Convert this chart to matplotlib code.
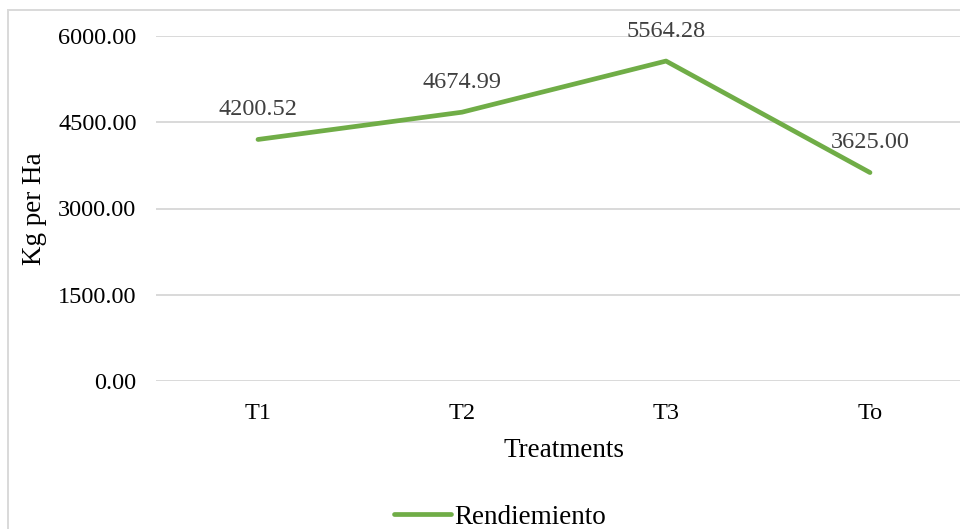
import matplotlib.pyplot as plt
from matplotlib.patches import Rectangle

# data
treatments = ['T1', 'T2', 'T3', 'To']
rendimiento = [4200.52, 4674.99, 5564.28, 3625.00]
yticks = [0, 1500, 3000, 4500, 6000]

plt.rcParams['font.family'] = ['Liberation Serif', 'DejaVu Serif']

fig = plt.figure(figsize=(9.6, 5.29), dpi=100)
# plot area runs past the right edge of the picture, as in the reference
ax = fig.add_axes([156 / 960, 148 / 529, 816 / 960, 345 / 529])

x = range(len(treatments))
ax.plot(x, rendimiento, color='#70AD47', lw=3.4, solid_capstyle='round',
        label='Rendiemiento', zorder=3)

for xi, v in zip(x, rendimiento):
    ax.annotate(f'{v:.2f}', (xi, v), xytext=(0, 21.5), textcoords='offset points',
                ha='center', va='center', fontsize=17.5, color='#404040', zorder=4)

ax.set_xlim(-0.5, len(treatments) - 0.5)
ax.set_ylim(0, 6000)
ax.set_xticks(list(x))
ax.set_xticklabels(treatments)
ax.set_yticks(yticks)
ax.set_yticklabels([f'{t:.2f}' for t in yticks])
ax.tick_params(length=0, labelsize=17.5, colors='#000000')
ax.tick_params(axis='y', pad=14)
ax.tick_params(axis='x', pad=16)
ax.grid(axis='y', color='#d9d9d9', lw=1.4)
ax.set_axisbelow(True)
for s in ax.spines.values():
    s.set_visible(False)

ax.set_xlabel('Treatments', fontsize=19.5, labelpad=10)
ax.set_ylabel('Kg per Ha', fontsize=19.5, labelpad=8)

fig.legend(loc='center', bbox_to_anchor=(500 / 960, 1 - 517 / 529), frameon=False,
           fontsize=19.5, handlelength=2.1, handletextpad=0.1)

# outer chart border (cut off at right and bottom)
fig.patches.append(Rectangle((8 / 960, -0.2), 1.2, 1 - 10 / 529 + 0.2,
                             transform=fig.transFigure, fill=False,
                             edgecolor='#d9d9d9', lw=1.4))

fig.savefig('out.png', dpi=100)
